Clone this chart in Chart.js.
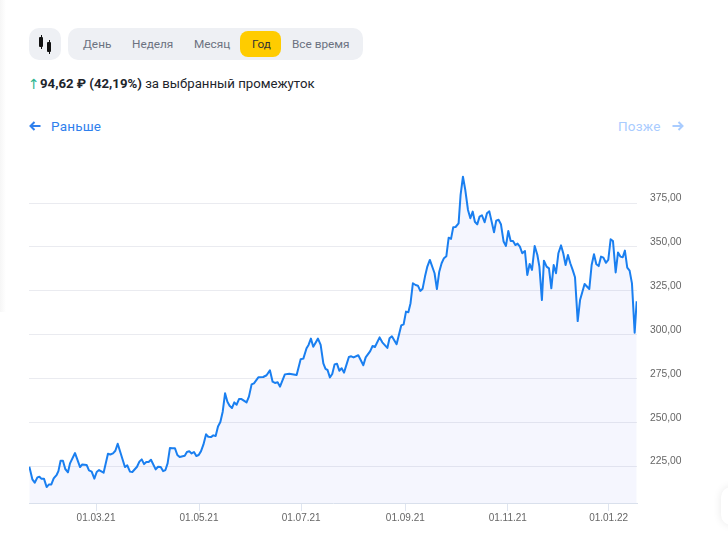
<!DOCTYPE html>
<html lang="ru">
<head>
<meta charset="utf-8">
<title>График</title>
<script src="https://cdn.jsdelivr.net/npm/chart.js@4/dist/chart.umd.min.js"></script>
<style>
html, body { margin: 0; padding: 0; background: #fff; overflow: hidden; }
body { width: 728px; height: 539px; position: relative; font-family: Roboto, Arial, sans-serif; }
.abs { position: absolute; white-space: nowrap; }
.shadow-left { left: 0; top: 0; width: 6px; height: 312px; background: linear-gradient(to right, #f6f6f6, #fff); }
.card { left: 721px; top: 487px; width: 40px; height: 38px; background: #fff; border-radius: 10px; box-shadow: 0 0 8px rgba(0,0,0,.09); }
.candles { left: 29px; top: 28px; width: 32px; height: 32px; background: #eef0f4; border-radius: 10px; }
.candles i { position: absolute; width: 4px; background: #111; border-radius: 1px; }
.candles b { position: absolute; width: 1px; background: #111; }
.periods { left: 68px; top: 28px; width: 295px; height: 32px; background: #eef0f4; border-radius: 10px; }
.on { left: 240px; top: 31px; width: 41px; height: 26px; background: #ffcc00; border-radius: 8px; }
.tab { top: 36px; font-size: 11.8px; line-height: 16px; color: #6b7280; }
.up { left: 28px; top: 75px; font: 14px/18px "DejaVu Sans", sans-serif; color: #2fb58f; }
.change { left: 40px; top: 75px; font-size: 13.2px; line-height: 18px; color: #21242b; }
.nav { top: 117px; font-size: 13.5px; line-height: 18px; letter-spacing: .2px; }
canvas { position: absolute; left: 0; top: 159px; }
</style>
</head>
<body>
<div class="abs shadow-left"></div>
<div class="abs card"></div>
<div class="abs candles"><b style="left:11.5px;top:7px;height:14px"></b><i style="left:10px;top:9px;height:10px"></i><b style="left:19.5px;top:12px;height:14px"></b><i style="left:18px;top:14px;height:10px"></i></div>
<div class="abs periods"></div>
<div class="abs on"></div>
<div class="abs tab" style="left:83px">День</div>
<div class="abs tab" style="left:132px">Неделя</div>
<div class="abs tab" style="left:194px">Месяц</div>
<div class="abs tab" style="left:252px;color:#333">Год</div>
<div class="abs tab" style="left:292px">Все время</div>
<div class="abs up">↑</div>
<div class="abs change"><b>94,62 ₽ (42,19%)</b> за выбранный промежуток</div>
<svg class="abs" style="left:29px;top:121px" width="12" height="10" viewBox="0 0 12 10"><path d="M11.5 5H1.5M5.5 1L1.5 5L5.5 9" fill="none" stroke="#2f80ed" stroke-width="2"/></svg>
<div class="abs nav" style="left:51px;color:#2f80ed">Раньше</div>
<div class="abs nav" style="left:618px;color:#a9ccff">Позже</div>
<svg class="abs" style="left:672px;top:121px" width="12" height="10" viewBox="0 0 12 10"><path d="M.5 5H10.5M6.5 1L10.5 5L6.5 9" fill="none" stroke="#a9ccff" stroke-width="2"/></svg>
<canvas id="price" width="728" height="380"></canvas>
<script>
// дни от начала периода и цена закрытия
const days = [0.2,2,3.4,5,6.2,7.3,8.9,10.5,11.9,13.3,14.7,16.5,17.5,18.8,20.2,21.6,23.2,24.4,27.4,30.4,31.7,34.3,35.7,37.3,38.9,40.3,41.7,44.4,47,48.4,50,51.4,52.8,57.1,58.5,60.1,61.5,64.3,65.7,67.1,68.5,69.8,71.2,72.6,75.4,76.8,78.4,79.8,81.2,82.5,83.9,85.3,86.9,88.3,89.7,92.7,94,95.4,96.8,98.2,99.6,101,102.4,103.8,105.4,106.7,108.3,109.7,111.1,112.5,113.9,115.3,116.7,118.1,119.4,120.8,122.2,123.6,125,126.5,129.5,130.9,132.5,133.9,136.5,139.4,141.4,143.4,145,146.4,148,149.4,152.3,154.9,159.3,161.7,163.3,165.2,166.4,167.8,169.2,172,173.6,175.2,176.5,177.7,179.1,180.5,181.9,183.3,184.7,186.1,187.5,190.4,191.8,193.2,196,199,200.4,203.1,204.5,205.9,208.7,210.3,213.3,214.6,216,218.8,221.6,223,224.4,225.8,227.1,228.5,230.1,231.5,232.9,234.3,235.7,237.1,238.6,241.4,242.8,244.2,245.6,247,248.4,249.8,251.2,252.5,253.9,255.7,256.9,258.3,259.7,261.3,262.7,264.1,265.4,266.8,268.2,269.6,271.2,272.6,274,276.8,278.1,279.5,280.9,282.5,283.9,285.3,286.7,288.1,289.5,290.8,292.2,293.6,295.2,296.6,298,299.4,301,302.6,303.8,305.3,306.5,308.1,309.5,310.9,312.3,313.7,315.1,316.7,318,319.4,320.8,322.2,323.6,325,326.6,328,329.4,330.7,333.5,334.9,336.3,337.7,339.1,340.5,341.9,343.4,344.8,346.2,347.6,349.2,350.6,352,353.4,354.7,356.1,357.5,358.9,360.5,361.7];
const prices = [224.6,217.4,215.5,218.5,218.9,217.8,217.8,213,214.5,214.5,217.9,220,222.1,228,228,223.3,221.4,226.5,232.4,224.4,225.9,225.6,222.5,221.8,217.8,221.6,222.7,221.2,232,231.6,232.2,233.7,237.7,224.4,225.4,221.8,221.6,224.6,227.5,228.8,226.1,227.3,227.3,228.6,223.1,224.6,224.4,222.1,222.7,226.5,235.3,235.1,235.1,231.3,230.1,230.9,233,233.4,232.2,233,230.7,231.3,233.5,237.2,243.1,241.7,241.5,242.5,242.1,247.6,250.1,256,266.5,261.7,259.4,258.1,261.3,260,263.2,263.2,261.3,264.6,271.6,272.2,275.6,275.8,276.8,279.6,273.1,272.4,272.8,270.3,277.3,277.7,276.9,285.9,286.3,292.2,294.1,297.7,293.1,297.7,294.1,283.6,280.4,279.8,275.6,277.5,283,283.4,279.4,280.8,278.3,287.2,287.6,287,288.2,282.5,287,290.6,293.5,292.9,298.4,295.6,292.4,297.9,299,294.5,305.3,305.9,313.1,312.8,317.9,329.3,328.3,327.9,324.9,326.2,333.1,338.8,342.6,335,326,335.9,340.7,343.6,344.7,355.3,354.6,361.2,361.4,363.5,379.7,390.1,382.5,371.1,366.4,370.2,364.4,362.9,367.3,368.1,364.1,369.2,370.3,358.4,365,365.5,363,353.1,350.6,359.1,353.4,353.4,351.1,351.9,350.2,346.4,347.7,334,340.3,336.9,350.6,345.4,338.8,319.7,342.2,338.8,337.8,326.4,339.7,335,346.4,350.9,346.4,339.7,345.4,340.7,336.9,332.7,307.7,319.7,324.5,328.9,326,339.7,345.8,340.1,339.1,344.5,343.9,341,342.6,354.4,353.4,335.5,346.9,344.5,344.1,347.9,338.2,336.5,329.2,301.1,319];
const xTickDays = [39.9, 101.2, 162, 224, 285, 345];
const xTickLabels = ['01.03.21', '01.05.21', '01.07.21', '01.09.21', '01.11.21', '01.01.22'];
const yTickVals = [225, 250, 275, 300, 325, 350, 375];
const yTickLabels = ['225,00', '250,00', '275,00', '300,00', '325,00', '350,00', '375,00'];

new Chart(document.getElementById('price'), {
  type: 'line',
  data: {
    datasets: [{
      data: days.map((d, i) => ({ x: d, y: prices[i] })),
      borderColor: '#1a7ff0', borderWidth: 2, borderJoinStyle: 'round',
      backgroundColor: 'rgba(70,90,230,0.055)', fill: 'start', pointRadius: 0, tension: 0,
    }],
  },
  options: {
    responsive: false, animation: false,
    layout: { padding: { left: 29, top: 0, right: 0, bottom: 0 } },
    plugins: { legend: { display: false }, tooltip: { enabled: false } },
    scales: {
      x: {
        type: 'linear', min: 0, max: 361.9,
        afterBuildTicks: s => { s.ticks = xTickDays.map(v => ({ value: v })); },
        afterFit: s => { s.height = 36; s.paddingLeft = 0; s.paddingRight = 0; },
        border: { color: '#d9e0ec', z: 1 },
        grid: { drawOnChartArea: false, color: '#dfe5f0', tickLength: 8 },
        ticks: { autoSkip: false, maxRotation: 0, padding: 1, color: '#666', font: { family: 'Liberation Sans', size: 10 },
          callback: (v, i) => xTickLabels[i] },
      },
      y: {
        position: 'right', min: 203.9, max: 400.2,
        afterBuildTicks: s => { s.ticks = yTickVals.map(v => ({ value: v })); },
        afterFit: s => { s.width = 91; s.paddingTop = 0; s.paddingBottom = 0; },
        border: { display: false },
        grid: { color: '#eaebf0', drawTicks: false },
        ticks: { padding: 13, labelOffset: -4.5, color: '#666', font: { family: 'Liberation Sans', size: 10.3 },
          callback: (v, i) => yTickLabels[i] },
      },
    },
  },
});
</script>
</body>
</html>
